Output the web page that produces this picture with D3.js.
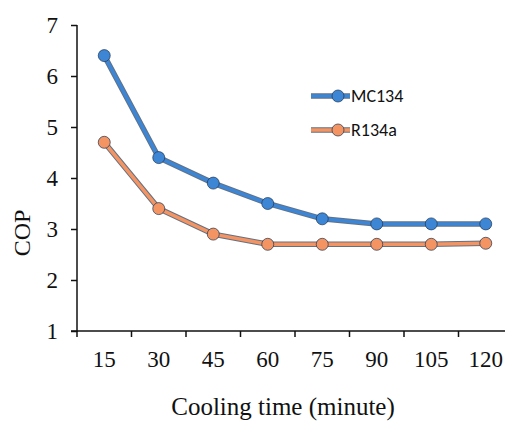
<!DOCTYPE html>
<html>
<head>
<meta charset="utf-8">
<script src="https://cdn.jsdelivr.net/npm/d3@7"></script>
<style>
  body { margin: 0; background: #fff; }
  svg { display: block; }
</style>
</head>
<body>
<svg id="chart" width="505" height="421"></svg>
<script>
// data
const times = ["15", "30", "45", "60", "75", "90", "105", "120"];
const mc134 = [6.4, 4.4, 3.9, 3.5, 3.2, 3.1, 3.1, 3.1];
const r134a = [4.7, 3.4, 2.9, 2.7, 2.7, 2.7, 2.7, 2.72];
const yTicks = [1, 2, 3, 4, 5, 6, 7];

const series = [
  { name: "MC134", values: mc134, color: "#3d86d6" },
  { name: "R134a", values: r134a, color: "#f39462" }
];

const svg = d3.select("#chart");
const plotLeft = 77, plotTop = 25, plotBottom = 331;

// category axis, ticks sit between the categories (spreadsheet style)
const x = d3.scaleBand().domain(times).range([plotLeft, plotLeft + 8 * 54.5]).paddingInner(0).paddingOuter(0);
const y = d3.scaleLinear().domain([1, 7]).range([plotBottom, plotTop]);

const serif = "'Liberation Serif', 'DejaVu Serif', serif";

// y axis
const yAxis = svg.append("g").attr("transform", `translate(${plotLeft},0)`)
  .call(d3.axisLeft(y).tickValues(yTicks).tickSize(6).tickPadding(13).tickFormat(d3.format("d")));
yAxis.selectAll("text").attr("font-family", serif).attr("font-size", 23).attr("fill", "#111");

// x axis
const xAxis = svg.append("g").attr("transform", `translate(0,${plotBottom})`)
  .call(d3.axisBottom(x).tickSize(0).tickPadding(20));
xAxis.selectAll("text").attr("font-family", serif).attr("font-size", 23).attr("fill", "#111");
// boundary ticks between categories
xAxis.selectAll(".sep").data(times.concat(["end"])).enter().append("line")
  .attr("class", "sep")
  .attr("x1", (d, i) => plotLeft + i * x.step()).attr("x2", (d, i) => plotLeft + i * x.step())
  .attr("y1", 0).attr("y2", 6).attr("stroke", "#111");
[yAxis, xAxis].forEach(g => {
  g.selectAll(".domain").attr("stroke", "#111").attr("stroke-width", 1.5);
  g.selectAll("line").attr("stroke", "#111").attr("stroke-width", 1.5);
});
xAxis.select(".domain").attr("d", `M${plotLeft - 6},0H505`);
yAxis.select(".domain").attr("d", `M0,${plotTop}V${plotBottom + 1}`);

// axis titles
svg.append("text").attr("x", 283).attr("y", 415).attr("text-anchor", "middle")
  .attr("font-family", serif).attr("font-size", 25).attr("fill", "#111")
  .text("Cooling time (minute)");
svg.append("text").attr("transform", "translate(30,233) rotate(-90)").attr("text-anchor", "middle")
  .attr("font-family", serif).attr("font-size", 24).attr("fill", "#111")
  .text("COP");

const xc = d => x(d) + x.bandwidth() / 2;
const line = d3.line().x((d, i) => xc(times[i])).y(d => y(d));

series.forEach(s => {
  const g = svg.append("g");
  g.append("path").attr("d", line(s.values)).attr("fill", "none")
    .attr("stroke", "#1f3550").attr("stroke-width", 5.5).attr("stroke-opacity", 0.7);
  g.append("path").attr("d", line(s.values)).attr("fill", "none")
    .attr("stroke", s.color).attr("stroke-width", 3.5);
  g.selectAll("circle").data(s.values).enter().append("circle")
    .attr("cx", (d, i) => xc(times[i])).attr("cy", d => y(d)).attr("r", 6)
    .attr("fill", s.color).attr("stroke", "#1f3550").attr("stroke-opacity", 0.7).attr("stroke-width", 1);
});

// legend
const legend = svg.append("g");
series.forEach((s, i) => {
  const ly = 96 + i * 34;
  legend.append("line").attr("x1", 311).attr("x2", 350).attr("y1", ly).attr("y2", ly)
    .attr("stroke", "#1f3550").attr("stroke-opacity", 0.7).attr("stroke-width", 5.5);
  legend.append("line").attr("x1", 311).attr("x2", 350).attr("y1", ly).attr("y2", ly)
    .attr("stroke", s.color).attr("stroke-width", 3.5);
  legend.append("circle").attr("cx", 338).attr("cy", ly).attr("r", 6)
    .attr("fill", s.color).attr("stroke", "#1f3550").attr("stroke-opacity", 0.7);
  legend.append("text").attr("x", 351).attr("y", ly + 6)
    .attr("font-family", "Carlito, 'Liberation Sans', 'DejaVu Sans', sans-serif").attr("font-size", 18).attr("fill", "#111")
    .text(s.name);
});
</script>
</body>
</html>
